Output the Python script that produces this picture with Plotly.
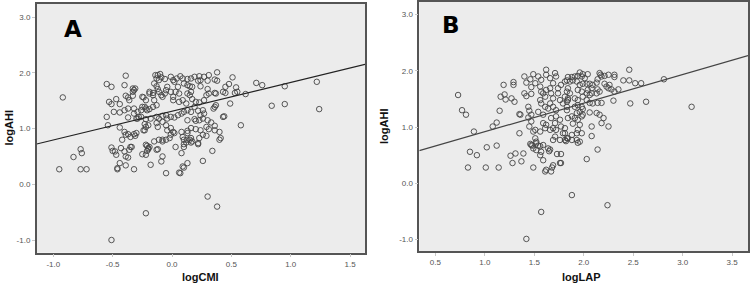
import plotly.graph_objects as go

# ---------------- Panel A: logCMI vs logAHI ----------------
cmi_x = [
    -0.95, -0.92, -0.83, -0.77, -0.76, -0.77, -0.72, -0.51, -0.22, 0.30, 0.38,
    0.71, 0.76, 0.95, 1.22, 0.84, 0.95, 1.24, 0.58, 0.62, 0.44, 0.49,
    -0.55, -0.51, -0.39, -0.40, -0.33, -0.32, -0.31, -0.53, -0.51, -0.47, -0.44, -0.39,
    -0.37, -0.33, -0.33, -0.36, -0.55, -0.54, -0.49, -0.44, -0.40, -0.37, -0.32, -0.32,
    -0.29, -0.37, -0.30, -0.28, -0.44, -0.37, -0.30, -0.31, -0.24, -0.23, -0.40, -0.39,
    -0.42, -0.35, -0.32,
    -0.51, -0.50, -0.48, -0.47, -0.43, -0.40, -0.39, -0.36, -0.35, -0.34, -0.37, -0.44,
    -0.39, -0.46, -0.46, -0.32,
    -0.25, -0.22, -0.25, -0.21, -0.19, -0.16, -0.15, -0.24, -0.19, -0.16, -0.14, -0.13,
    -0.12, -0.10, -0.11, -0.09, -0.06, -0.15, -0.13, -0.12, -0.11, -0.09, -0.08, -0.06,
    -0.05, -0.04, -0.01, 0.01, 0.02, 0.04, 0.07, 0.09, 0.10, 0.13, 0.05, 0.03, 0.06,
    -0.01, 0.01, 0.01, 0.06, 0.09, 0.12, 0.15,
    -0.26, -0.23, -0.22, -0.19, -0.16, -0.13, -0.29, -0.26, -0.22, -0.18, -0.13, -0.11,
    -0.08, -0.05, -0.04, -0.01, 0.02, 0.05, 0.08, 0.10, 0.13,
    -0.23, -0.22, -0.20, -0.13, -0.12, -0.08, -0.05, -0.04, -0.01, 0.01, 0.02, -0.01,
    -0.02, -0.05, -0.08, -0.11, 0.09, 0.10, 0.13, 0.15, 0.08,
    -0.22, -0.20, -0.19, -0.22, -0.25, -0.21, -0.21, -0.20, -0.12, -0.08, -0.09, -0.18,
    -0.13, -0.15, -0.08, -0.05, 0.06, 0.09, 0.13, 0.07, 0.10, 0.08, 0.10, 0.12, 0.16,
    0.22, 0.03, 0.10,
    0.38, 0.31, 0.27, 0.23, 0.19, 0.16, 0.13, 0.22, 0.24, 0.30, 0.36, 0.38, 0.51, 0.48,
    0.45, 0.54, 0.55, 0.53, 0.43, 0.45, 0.37, 0.36, 0.30, 0.24, 0.17, 0.15, 0.29, 0.31,
    0.27, 0.23, 0.17, 0.13, 0.16, 0.36, 0.37, 0.35, 0.22, 0.26, 0.27, 0.24, 0.43, 0.13,
    0.19, 0.20, 0.23, 0.26, 0.30, 0.33, 0.36, 0.13, 0.16, 0.20, 0.24, 0.29, 0.31, 0.36,
    0.40, 0.41, 0.26, 0.29, 0.23, 0.16, 0.13, 0.17, 0.22, 0.34, 0.26, 0.40, 0.20, 0.16,
    0.19,
]
cmi_y = [
    0.27, 1.56, 0.49, 0.63, 0.56, 0.27, 0.27, -1.00, -0.52, -0.22, -0.40,
    1.82, 1.78, 1.76, 1.84, 1.41, 1.44, 1.35, 1.06, 1.62, 1.22, 1.45,
    1.80, 1.75, 1.95, 1.78, 1.72, 1.69, 1.72, 1.48, 1.44, 1.53, 1.44, 1.59,
    1.56, 1.59, 1.66, 1.51, 1.21, 1.06, 1.30, 1.29, 1.33, 1.36, 1.36, 1.27,
    1.30, 1.20, 1.18, 1.21, 1.02, 0.90, 0.92, 0.87, 0.97, 1.08, 0.94, 0.89,
    0.80, 0.85, 0.90,
    0.66, 0.60, 0.59, 0.53, 0.65, 0.59, 0.50, 0.62, 0.67, 0.67, 0.48, 0.38,
    0.34, 0.29, 0.27, 0.27,
    1.57, 1.51, 1.39, 1.33, 1.66, 1.60, 1.51, 1.56, 1.63, 1.64, 1.96, 1.90,
    1.96, 1.98, 1.87, 1.92, 1.89, 1.81, 1.76, 1.71, 1.66, 1.60, 1.57, 1.63,
    1.69, 1.75, 1.93, 1.87, 1.84, 1.90, 1.94, 1.90, 1.81, 1.78, 1.75, 1.66, 1.63,
    1.66, 1.57, 1.51, 1.48, 1.51, 1.45, 1.60,
    1.33, 1.39, 1.36, 1.35, 1.39, 1.42, 1.18, 1.21, 1.17, 1.18, 1.21, 1.18,
    1.23, 1.24, 1.18, 1.21, 1.20, 1.24, 1.27, 1.30, 1.33,
    0.97, 1.03, 1.06, 1.10, 1.03, 1.12, 1.06, 0.97, 1.01, 0.94, 0.92, 0.89,
    0.83, 0.80, 0.80, 0.80, 0.85, 0.80, 0.92, 0.80, 0.94,
    0.71, 0.65, 0.67, 0.53, 0.54, 0.60, 0.69, 0.63, 0.63, 0.50, 0.41, 0.35,
    0.62, 0.77, 0.77, 0.20, 0.21, 0.32, 0.38, 0.20, 0.30, 0.56, 0.72, 0.75, 0.75,
    0.72, 0.67, 0.67,
    2.01, 1.96, 1.93, 1.94, 1.93, 1.90, 1.89, 1.86, 1.87, 1.86, 1.88, 1.86, 1.92, 1.80,
    1.75, 1.74, 1.66, 1.64, 1.66, 1.64, 1.63, 1.64, 1.71, 1.76, 1.75, 1.76, 1.60, 1.63,
    1.51, 1.47, 1.53, 1.63, 1.66, 1.39, 1.42, 1.36, 1.32, 1.33, 1.27, 1.24, 1.21, 1.15,
    1.17, 1.14, 1.15, 1.18, 1.15, 1.11, 1.05, 0.96, 1.01, 0.99, 0.97, 1.03, 0.99, 0.97,
    0.94, 0.83, 0.89, 0.87, 0.83, 0.83, 0.80, 0.77, 0.74, 0.60, 0.42, 0.80, 1.48, 1.30,
    1.39,
]
cmi_fit_intercept = 1.313
cmi_fit_slope = 0.517

# ---------------- Panel B: logLAP vs logAHI ----------------
lap_x = [
    0.73, 0.77, 0.81, 0.89, 0.83, 0.85, 0.92, 1.01, 1.02, 1.12, 1.14, 1.08, 1.12, 1.15,
    1.16, 1.20, 1.21, 1.27, 1.30, 1.29, 1.19, 1.29, 1.36, 1.35, 1.26, 1.31, 1.28, 1.37,
    1.39, 1.42, 1.57, 1.88, 2.24,
    1.40, 1.42, 1.49, 1.46, 1.47, 1.51, 1.40, 1.42, 1.47, 1.35, 1.44, 1.45, 1.47, 1.44,
    1.47, 1.45, 1.49,
    1.51, 1.56, 1.51, 1.52, 1.47, 1.49, 1.52, 1.56, 1.57, 1.56, 1.59, 1.46, 1.48, 1.52,
    1.54, 1.59, 1.49, 1.61, 1.64, 1.65, 1.67, 1.68, 1.69, 1.73, 1.76, 1.66, 1.62,
    1.56, 1.57, 1.59, 1.61, 1.62, 1.66, 1.67, 1.69, 1.56, 1.57, 1.61, 1.64, 1.66, 1.69,
    1.72, 1.72, 1.76, 1.67, 1.71, 1.62, 1.59, 1.61, 1.66, 1.69, 1.72, 1.77, 1.81, 1.83,
    1.76, 1.71, 1.69, 1.79, 1.83, 1.79, 1.76, 1.74, 1.77, 1.81, 1.72, 1.71, 1.62, 1.62,
    1.66, 1.69, 1.74, 1.83, 1.84, 1.57, 1.54, 1.59, 1.54,
    1.96, 1.99, 2.04, 1.94, 1.98, 2.01, 1.91, 1.88, 1.84, 1.83, 1.86, 1.89, 1.93, 1.96,
    1.99, 2.03, 2.06, 2.09, 2.13,
    2.16, 2.17, 2.18, 2.14, 2.21, 2.25, 2.31, 2.31, 2.40, 2.46, 2.52, 2.58, 2.21, 2.23,
    2.28, 2.31, 2.35, 2.14, 2.16, 2.13, 2.08, 2.04, 2.03, 1.98, 1.94, 1.84, 1.86, 1.81,
    1.84, 1.83, 1.91, 1.94, 1.99, 2.03, 2.06, 2.09, 2.14, 2.18, 2.30, 2.47, 2.63, 2.08,
    2.06, 2.46, 2.81, 3.09, 2.26, 2.25,
    1.83, 1.91, 1.94, 1.98, 1.99, 1.96, 1.93, 1.88, 1.84, 1.91, 1.94, 1.98, 1.99, 2.06,
    2.13, 2.16, 2.20, 2.18, 2.25, 1.89, 1.96, 1.94, 1.93, 1.98, 1.88, 1.84, 1.88, 1.93,
    1.94, 2.08, 2.08, 2.14, 2.03, 1.81, 1.81, 1.82, 1.96, 1.77, 1.77,
]
lap_y = [
    1.57, 1.30, 1.22, 0.92, 0.28, 0.56, 0.50, 0.28, 0.64, 0.67, 0.28, 1.01, 1.08, 1.29,
    1.54, 1.58, 1.49, 1.51, 1.45, 1.75, 1.75, 1.80, 1.22, 0.89, 0.49, 0.53, 0.36, 0.39,
    0.53, -0.99, -0.51, -0.21, -0.39,
    1.90, 1.79, 1.94, 1.85, 1.71, 1.78, 1.60, 1.55, 1.59, 1.23, 1.36, 1.29, 1.22, 1.17,
    1.10, 1.01, 0.92,
    0.95, 0.92, 0.80, 0.71, 0.68, 0.62, 0.59, 0.66, 0.56, 0.50, 0.41, 0.70, 0.67, 0.74,
    0.67, 0.68, 0.28, 0.21, 0.62, 0.57, 0.21, 0.28, 0.32, 0.52, 0.36, 0.60, 0.24,
    1.72, 1.63, 1.60, 1.54, 1.66, 1.69, 1.60, 1.51, 1.48, 1.42, 1.36, 1.33, 1.42, 1.36,
    1.30, 1.19, 1.13, 1.16, 1.07, 1.04, 1.07, 0.98, 0.95, 0.98, 0.95, 1.01, 0.98, 0.80,
    0.77, 0.83, 0.77, 0.89, 1.30, 1.42, 1.48, 1.60, 1.75, 1.81, 1.90, 1.96, 2.02, 1.93,
    1.87, 1.78, 1.69, 1.63, 1.48, 1.84, 1.90, 1.22, 1.27,
    1.97, 1.94, 1.94, 1.91, 1.90, 1.87, 1.90, 1.89, 1.89, 1.83, 1.81, 1.83, 1.81, 1.75,
    1.77, 1.77, 1.77, 1.75, 1.79,
    1.96, 1.93, 1.90, 1.85, 1.91, 1.93, 1.93, 1.89, 1.83, 1.83, 1.78, 1.78, 1.77, 1.72,
    1.67, 1.63, 1.67, 1.67, 1.63, 1.60, 1.69, 1.66, 1.60, 1.63, 1.66, 1.69, 1.60, 1.54,
    1.51, 1.45, 1.51, 1.48, 1.54, 1.48, 1.43, 1.42, 1.43, 1.43, 1.47, 1.42, 1.45, 1.60,
    1.57, 2.02, 1.85, 1.36, 1.75, 1.69,
    1.36, 1.36, 1.39, 1.36, 1.32, 1.27, 1.25, 1.19, 1.16, 1.16, 1.13, 1.19, 1.22, 1.26,
    1.25, 1.22, 1.16, 1.07, 1.01, 1.06, 1.04, 0.95, 0.89, 0.89, 0.86, 0.80, 0.77, 0.77,
    0.72, 1.01, 0.84, 0.60, 0.43, 0.89, 0.77, 0.75, 0.74, 0.52, 0.36,
]
lap_fit_intercept = 0.408
lap_fit_slope = 0.509

# axis ranges / ticks
a_xrange = [-1.14, 1.626]
b_xrange = [0.338, 3.66]
a_yrange = [-1.228, 3.237]
b_yrange = [-1.205, 3.23]
a_xticks = [-1.0, -0.5, 0.0, 0.5, 1.0, 1.5]
b_xticks = [0.5, 1.0, 1.5, 2.0, 2.5, 3.0, 3.5]
y_ticks = [-1.0, 0.0, 1.0, 2.0, 3.0]

fig = go.Figure()

marker = dict(symbol="circle-open", size=5.5, color="#444444", line=dict(width=0.9))

fig.add_trace(go.Scatter(x=cmi_x, y=cmi_y, mode="markers", marker=marker,
                         xaxis="x", yaxis="y", showlegend=False))
fig.add_trace(go.Scatter(x=a_xrange,
                         y=[cmi_fit_intercept + cmi_fit_slope * v for v in a_xrange],
                         mode="lines", line=dict(color="#222222", width=1.2),
                         xaxis="x", yaxis="y", showlegend=False))
fig.add_trace(go.Scatter(x=lap_x, y=lap_y, mode="markers", marker=marker,
                         xaxis="x2", yaxis="y2", showlegend=False))
fig.add_trace(go.Scatter(x=b_xrange,
                         y=[lap_fit_intercept + lap_fit_slope * v for v in b_xrange],
                         mode="lines", line=dict(color="#444444", width=1.2),
                         xaxis="x2", yaxis="y2", showlegend=False))

W, H = 753, 288
tickfont = dict(family="Liberation Sans, Arial, sans-serif", size=8, color="#555555")
titlefont = dict(family="Liberation Sans, Arial, sans-serif", size=11, color="#111111")


def fmt(v):
    return f"{v:.1f}"


def axis_common():
    return dict(showgrid=False, zeroline=False, showline=True, linecolor="#555555",
                linewidth=1.5, mirror=True, ticks="outside", ticklen=3, tickcolor="#c8c8c8",
                tickfont=tickfont, automargin=False)


def xaxis(rng, ticks, dom, anchor):
    d = axis_common()
    d.update(domain=dom, range=rng, tickvals=ticks, ticktext=[fmt(t) for t in ticks],
             anchor=anchor)
    return d


def yaxis(rng, dom, anchor):
    d = axis_common()
    d.update(domain=dom, range=rng, tickvals=y_ticks, ticktext=[fmt(t) for t in y_ticks],
             anchor=anchor)
    return d


def title_ann(text, x, y, angle=0):
    return dict(text=f"<b>{text}</b>", x=x / W, y=1 - y / H, xref="paper", yref="paper",
                showarrow=False, textangle=angle, font=titlefont,
                xanchor="center", yanchor="middle")


fig.update_layout(
    width=W, height=H,
    margin=dict(l=0, r=0, t=0, b=0),
    paper_bgcolor="white",
    plot_bgcolor="#ececec",
    xaxis=xaxis(a_xrange, a_xticks, [36.7 / W, 365 / W], "y"),
    yaxis=yaxis(a_yrange, [1 - 252.7 / H, 1 - 4 / H], "x"),
    xaxis2=xaxis(b_xrange, b_xticks, [419.3 / W, 748 / W], "y2"),
    yaxis2=yaxis(b_yrange, [1 - 251 / H, 1 - 1.7 / H], "x2"),
    annotations=[
        dict(text="<b>A</b>", x=-0.83, y=2.78, xref="x", yref="y", showarrow=False,
             font=dict(family="DejaVu Sans, sans-serif", size=23, color="black")),
        dict(text="<b>B</b>", x=0.655, y=2.82, xref="x2", yref="y2", showarrow=False,
             font=dict(family="DejaVu Sans, sans-serif", size=23, color="black")),
        title_ann("logCMI", 200, 277),
        title_ann("logLAP", 581, 277),
        title_ann("logAHI", 8.5, 128, -90),
        title_ann("logAHI", 384, 127, -90),
    ],
)

fig.write_html(
    "out.html",
    config={"displayModeBar": False},
    post_script="document.body.style.margin='0px';document.body.style.overflow='hidden';",
)
